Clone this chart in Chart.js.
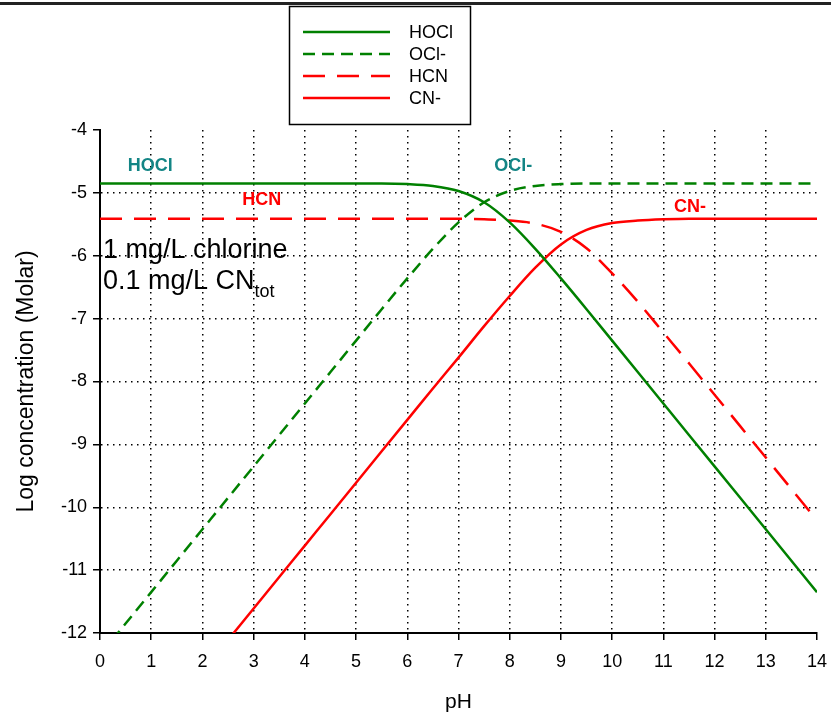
<!DOCTYPE html>
<html>
<head>
<meta charset="utf-8">
<script src="https://cdn.jsdelivr.net/npm/chart.js"></script>
<style>
  html, body { margin: 0; padding: 0; background: #fff; overflow: hidden; }
  #wrap { width: 831px; height: 719px; position: relative; }
</style>
</head>
<body>
<div id="wrap"><canvas id="speciesChart" width="831" height="719"></canvas></div>
<script>
// pH values
let pH = [0, 0.5, 1, 1.5, 2, 2.5, 3, 3.5, 4, 4.5, 5, 5.5, 6, 6.5, 7, 7.5, 8, 8.5, 9, 9.5, 10, 10.5, 11, 11.5, 12, 12.5, 13, 13.5, 14];

// log concentrations (Molar)
let hocl = [-4.85, -4.85, -4.85, -4.85, -4.85, -4.85, -4.85, -4.85, -4.85, -4.85, -4.85, -4.85,
    -4.86, -4.89, -4.97, -5.15, -5.47, -5.89, -6.36, -6.85, -7.35, -7.85, -8.35, -8.85, -9.35, -9.85, -10.35, -10.85, -11.35];
let ocl = [-12.35, -11.85, -11.35, -10.85, -10.35, -9.85, -9.35, -8.85, -8.35, -7.85, -7.35, -6.85,
    -6.36, -5.89, -5.47, -5.15, -4.97, -4.89, -4.86, -4.85, -4.85, -4.85, -4.85, -4.85, -4.85, -4.85, -4.85, -4.85, -4.85];
let hcn = [-5.41, -5.41, -5.41, -5.41, -5.41, -5.41, -5.41, -5.41, -5.41, -5.41, -5.41, -5.41, -5.41, -5.41, -5.41,
    -5.42, -5.44, -5.49, -5.62, -5.88, -6.28, -6.73, -7.22, -7.71, -8.21, -8.71, -9.21, -9.71, -10.21];
let cn = [-14.61, -14.11, -13.61, -13.11, -12.61, -12.11, -11.61, -11.11, -10.61, -10.11, -9.61, -9.11, -8.61, -8.11,
    -7.62, -7.12, -6.64, -6.19, -5.82, -5.59, -5.48, -5.44, -5.42, -5.41, -5.41, -5.41, -5.41, -5.41, -5.41];

let seriesNames = ["HOCl", "OCl-", "HCN", "CN-"];

// axis ticks
let xTicks = [0, 1, 2, 3, 4, 5, 6, 7, 8, 9, 10, 11, 12, 13, 14];
let yTicks = [-12, -11, -10, -9, -8, -7, -6, -5, -4];

// in-plot labels (pH, log C)
let curveLabels = [
    { text: "HOCl", x: 0.98, y: -4.58, color: "#138585" },
    { text: "OCl-", x: 8.07, y: -4.58, color: "#138585" },
    { text: "HCN", x: 3.16, y: -5.11, color: "#ff0000" },
    { text: "CN-", x: 11.52, y: -5.22, color: "#ff0000" }
];

const GREEN = "#008000";
const RED = "#ff0000";
const FONT = "Liberation Sans, Arial, sans-serif";

function toPoints(ys) {
    return pH.map((x, i) => ({ x: x, y: ys[i] }));
}

// extra drawing: top rule, legend box, labels, axis titles
const decorations = {
    id: "decorations",
    afterDraw(chart) {
        const ctx = chart.ctx;
        const xs = chart.scales.x;
        const ys = chart.scales.y;
        const area = chart.chartArea;
        ctx.save();

        // top rule
        ctx.strokeStyle = "#222";
        ctx.lineWidth = 3;
        ctx.beginPath();
        ctx.moveTo(0, 3.5);
        ctx.lineTo(chart.width, 3.5);
        ctx.stroke();

        // legend
        ctx.lineWidth = 1.5;
        ctx.strokeStyle = "#000";
        ctx.strokeRect(289.5, 6.5, 181, 118);
        chart.data.datasets.forEach((ds, i) => {
            let yy = 32 + i * 22;
            ctx.strokeStyle = ds.borderColor;
            ctx.lineWidth = ds.borderWidth;
            ctx.setLineDash(ds.borderDash || []);
            ctx.beginPath();
            ctx.moveTo(303, yy);
            ctx.lineTo(390, yy);
            ctx.stroke();
            ctx.setLineDash([]);
            ctx.fillStyle = "#000";
            ctx.font = "18px " + FONT;
            ctx.textBaseline = "middle";
            ctx.textAlign = "left";
            ctx.fillText(ds.label, 409, yy + 1);
        });

        // curve labels
        ctx.font = "bold 18px " + FONT;
        ctx.textAlign = "center";
        ctx.textBaseline = "middle";
        curveLabels.forEach(l => {
            ctx.fillStyle = l.color;
            ctx.fillText(l.text, xs.getPixelForValue(l.x), ys.getPixelForValue(l.y));
        });

        // concentrations note
        ctx.fillStyle = "#000";
        ctx.textAlign = "left";
        ctx.textBaseline = "alphabetic";
        ctx.font = "27px " + FONT;
        ctx.fillText("1 mg/L chlorine", area.left + 3, 258);
        let t = "0.1 mg/L CN";
        ctx.fillText(t, area.left + 3, 289);
        let w = ctx.measureText(t).width;
        ctx.font = "18px " + FONT;
        ctx.fillText("tot", area.left + 3 + w, 297);

        // axis titles
        ctx.textAlign = "center";
        ctx.font = "21px " + FONT;
        ctx.fillText("pH", (area.left + area.right) / 2, 708);
        ctx.font = "23px " + FONT;
        ctx.textBaseline = "middle";
        ctx.translate(27, (area.top + area.bottom) / 2);
        ctx.rotate(-Math.PI / 2);
        ctx.fillText("Log concentration (Molar)", 0, 0);
        ctx.restore();
    }
};

let ctx1 = document.getElementById("speciesChart").getContext("2d");
let chart = new Chart(ctx1, {
    type: "line",
    data: {
        datasets: [
            { label: seriesNames[0], data: toPoints(hocl), borderColor: GREEN, borderWidth: 2.5 },
            { label: seriesNames[1], data: toPoints(ocl), borderColor: GREEN, borderWidth: 2.5, borderDash: [12, 7] },
            { label: seriesNames[2], data: toPoints(hcn), borderColor: RED, borderWidth: 2.5, borderDash: [22, 12] },
            { label: seriesNames[3], data: toPoints(cn), borderColor: RED, borderWidth: 2.5 }
        ]
    },
    options: {
        responsive: false,
        animation: false,
        devicePixelRatio: 1,
        layout: { padding: { top: 130, right: 14, bottom: 0, left: 0 } },
        elements: {
            point: { radius: 0 },
            line: { cubicInterpolationMode: "monotone", fill: false }
        },
        plugins: {
            legend: { display: false },
            tooltip: { enabled: false }
        },
        scales: {
            x: {
                type: "linear",
                min: 0,
                max: 14,
                afterFit(scale) {
                    scale.height = 86;
                    scale.paddingLeft = 0;
                    scale.paddingRight = 0;
                },
                afterBuildTicks(scale) { scale.ticks = xTicks.map(v => ({ value: v })); },
                ticks: { color: "#000", font: { size: 18, family: FONT }, padding: 11, maxRotation: 0 },
                grid: {
                    color: c => (c.tick && c.tick.value === 14 ? "rgba(0,0,0,0)" : "#000"),
                    lineWidth: 1.5,
                    tickColor: "#000",
                    tickLength: 7,
                    tickWidth: 1.5
                },
                border: { color: "#000", width: 2, dash: [1.5, 4.5] }
            },
            y: {
                type: "linear",
                min: -12,
                max: -4,
                afterFit(scale) {
                    scale.width = 100;
                    scale.paddingTop = 0;
                    scale.paddingBottom = 0;
                },
                afterBuildTicks(scale) { scale.ticks = yTicks.map(v => ({ value: v })); },
                ticks: { color: "#000", font: { size: 18, family: FONT }, padding: 6 },
                grid: {
                    color: c => (c.tick && c.tick.value === -4 ? "rgba(0,0,0,0)" : "#000"),
                    lineWidth: 1.5,
                    tickColor: "#000",
                    tickLength: 7,
                    tickWidth: 1.5
                },
                border: { color: "#000", width: 2, dash: [1.5, 4.5] }
            }
        }
    },
    plugins: [decorations]
});
</script>
</body>
</html>
